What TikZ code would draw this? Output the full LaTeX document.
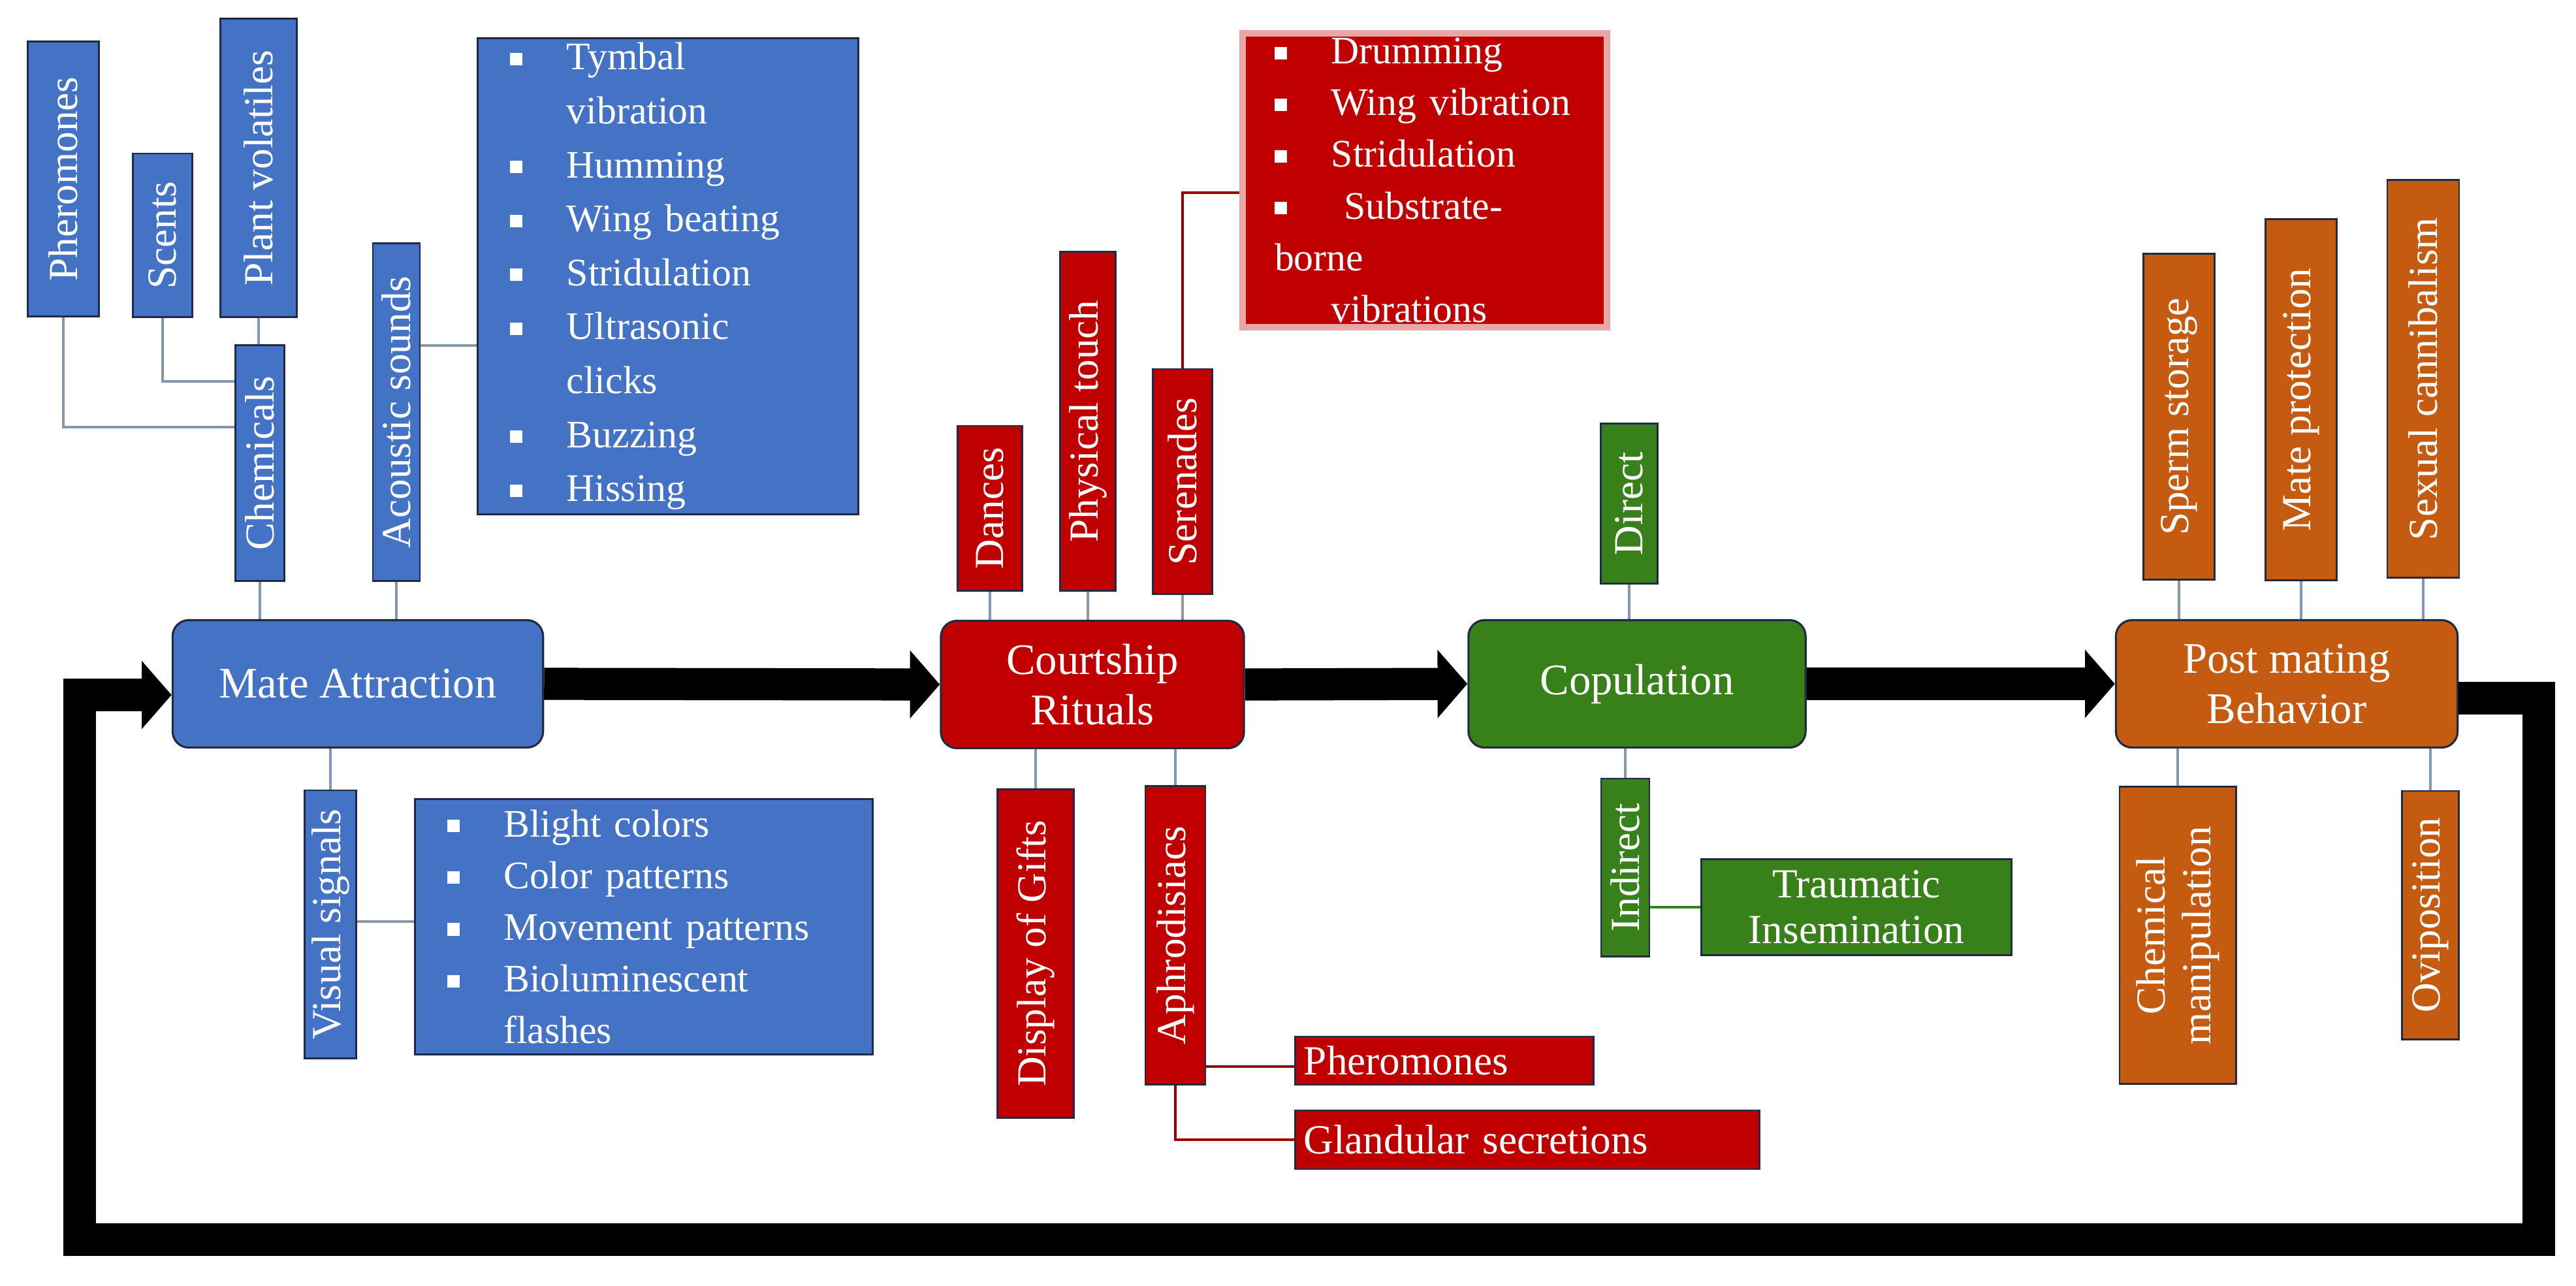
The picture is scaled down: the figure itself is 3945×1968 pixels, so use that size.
\documentclass[tikz,border=0pt]{standalone}
\usepackage{fontspec}
\setmainfont{Liberation Serif}
\usetikzlibrary{arrows.meta,positioning,backgrounds}

\definecolor{matblue}{HTML}{4472C4}
\definecolor{matred}{HTML}{C00000}
\definecolor{matgreen}{HTML}{38801A}
\definecolor{matorange}{HTML}{C55A11}
\definecolor{edgenavy}{HTML}{1F2A44}
\definecolor{linkgray}{HTML}{8497B0}

\newcommand{\sqb}{\makebox[1.45em][l]{\rule[0.25ex]{0.32em}{0.32em}}}
\newcommand{\cont}{\hspace*{1.45em}}

\tikzset{
    stage/.style={draw=edgenavy, line width=0.9pt, rounded corners=7pt, text=white,
        minimum width=#1, minimum height=1.95cm, align=center,
        font=\fontsize{19}{22}\selectfont},
    sub/.style={draw=edgenavy, line width=0.8pt, text=white, inner sep=2pt,
        font=\fontsize{18}{20}\selectfont},
    vbox/.style 2 args={sub, rotate=90, minimum width=#1, minimum height=#2},
    hbox/.style 2 args={sub, minimum width=#1, minimum height=#2},
    listbox/.style 2 args={sub, minimum width=#1, minimum height=#2,
        text width=#1-28pt, align=left, font=\fontsize{17}{22.5}\selectfont},
    link/.style={draw=linkgray, line width=0.9pt},
    redlink/.style={draw=matred!80!black, line width=0.9pt},
    greenlink/.style={draw=matgreen, line width=0.9pt},
    bigarrow/.style={draw=black, line width=14pt,
        -{Triangle[length=13pt,width=29pt]}},
}

\begin{document}
\begin{tikzpicture}[x=0.01cm,y=-0.01cm]
    \useasboundingbox (0,0) rectangle (3945,1968);

    % mate attraction
    \node[stage=5.67cm, fill=matblue] (mate) at (548,1047) {Mate Attraction};
    \node[vbox={4.21cm}{1.09cm}, fill=matblue] (phero)  at (97,274)  {Pheromones};
    \node[vbox={2.50cm}{0.91cm}, fill=matblue] (scents) at (249,360) {Scents};
    \node[vbox={4.56cm}{1.17cm}, fill=matblue] (plantv) at (396,257) {Plant volatiles};
    \node[vbox={3.61cm}{0.75cm}, fill=matblue] (chem)   at (398,709) {Chemicals};
    \node[vbox={5.17cm}{0.72cm}, fill=matblue] (acou)   at (607,631) {Acoustic sounds};
    \node[vbox={4.10cm}{0.79cm}, fill=matblue] (vis)    at (506,1415) {Visual signals};
    \node[listbox={5.82cm}{7.19cm}, fill=matblue, font=\fontsize{17}{23.5}\selectfont] (acoulist) at (1023,423)
        {\sqb Tymbal\\ \cont vibration\\ \sqb Humming\\ \sqb Wing beating\\ \sqb Stridulation\\
         \sqb Ultrasonic\\ \cont clicks\\ \sqb Buzzing\\ \sqb Hissing};
    \node[listbox={7.01cm}{3.91cm}, fill=matblue] (vislist) at (986,1419)
        {\sqb Blight colors\\ \sqb Color patterns\\ \sqb Movement patterns\\
         \sqb Bioluminescent\\ \cont flashes};

    % courtship
    \node[stage=4.64cm, fill=matred] (court) at (1673,1048) {Courtship\\Rituals};
    \node[vbox={2.52cm}{0.99cm}, fill=matred] (dances) at (1516,778) {Dances};
    \node[vbox={5.18cm}{0.85cm}, fill=matred] (phys)   at (1666,645) {Physical touch};
    \node[vbox={3.44cm}{0.91cm}, fill=matred] (seren)  at (1811,737) {Serenades};
    \node[vbox={5.03cm}{1.17cm}, fill=matred] (gifts)  at (1586,1460) {Display of Gifts};
    \node[vbox={4.57cm}{0.92cm}, fill=matred] (aphro)  at (1800,1432) {Aphrodisiacs};
    \node[listbox={5.58cm}{3.75cm}, fill=matred, draw=matred!35, line width=3pt] (redlist) at (2182,276)
        {\sqb Drumming\\ \sqb Wing vibration\\ \sqb Stridulation\\
         \sqb\ Substrate-borne\\ \cont vibrations};
    \node[hbox={4.57cm}{0.74cm}, fill=matred, anchor=west, text width=4.3cm, align=left] (pherob) at (1982,1624) {Pheromones};
    \node[hbox={7.11cm}{0.90cm}, fill=matred, anchor=west, text width=6.85cm, align=left] (gland) at (1982,1745) {Glandular secretions};

    % copulation
    \node[stage=5.16cm, fill=matgreen] (copu) at (2507,1047) {Copulation};
    \node[vbox={2.45cm}{0.87cm}, fill=matgreen] (direct) at (2495,771) {Direct};
    \node[vbox={2.72cm}{0.74cm}, fill=matgreen] (indir)  at (2489,1328) {Indirect};
    \node[hbox={4.74cm}{1.47cm}, fill=matgreen, align=center] (traum) at (2843,1389) {Traumatic\\Insemination};

    % post mating
    \node[stage=5.23cm, fill=matorange] (post) at (3502,1047) {Post mating\\Behavior};
    \node[vbox={4.99cm}{1.09cm}, fill=matorange] (sperm) at (3337,638) {Sperm storage};
    \node[vbox={5.52cm}{1.09cm}, fill=matorange] (matep) at (3524,612) {Mate protection};
    \node[vbox={6.09cm}{1.10cm}, fill=matorange] (sexc)  at (3711,580) {Sexual cannibalism};
    \node[vbox={4.54cm}{1.78cm}, fill=matorange, align=center] (chemm) at (3335,1432) {Chemical\\manipulation};
    \node[vbox={3.80cm}{0.87cm}, fill=matorange] (ovi)   at (3722,1401) {Oviposition};

    \coordinate (acoujoin)  at (607,529);
    \coordinate (visjoin)   at (506,1411);
    \coordinate (serenjoin) at (1811,295);
    \coordinate (aphrojoin) at (1800,1633);
    \coordinate (loopr)     at (3888,1898);
    \coordinate (loopl)     at (122,1898);

    \begin{scope}[on background layer]
        \draw[link] (phero) |- ([yshift=0.55cm]chem.center);
        \draw[link] (scents) |- ([yshift=1.25cm]chem.center);
        \draw[link] (plantv) -- (plantv |- chem);
        \draw[link] (chem) -- (chem |- mate);
        \draw[link] (acou) -- (acou |- mate);
        \draw[link] (acoujoin) -- (acoujoin -| acoulist);
        \draw[link] (vis) -- (vis |- mate);
        \draw[link] (visjoin) -- (visjoin -| vislist);

        \draw[link] (dances) -- (dances |- court);
        \draw[link] (phys) -- (phys |- court);
        \draw[link] (seren) -- (seren |- court);
        \draw[redlink] (seren) -- (serenjoin) -- (serenjoin -| redlist);
        \draw[link] (gifts) -- (gifts |- court);
        \draw[link] (aphro) -- (aphro |- court);
        \draw[redlink] (aphrojoin) -- (aphrojoin -| pherob.center);
        \draw[redlink] (aphro) |- (gland);

        \draw[link] (direct) -- (direct |- copu);
        \draw[link] (indir) -- (indir |- copu);
        \draw[greenlink] (traum -| indir) -- (traum);

        \draw[link] (sperm) -- (sperm |- post);
        \draw[link] (matep) -- (matep |- post);
        \draw[link] (sexc) -- (sexc |- post);
        \draw[link] (chemm) -- (chemm |- post);
        \draw[link] (ovi) -- (ovi |- post);
    \end{scope}

    \draw[bigarrow] (mate.east) -- (court.west);
    \draw[bigarrow] (court.east) -- (copu.west);
    \draw[bigarrow] (copu.east) -- (post.west);
    \draw[bigarrow] ([yshift=-0.22cm]post.east) -| (loopr) -- (loopl) |- ([yshift=-0.17cm]mate.west);
\end{tikzpicture}
\end{document}
